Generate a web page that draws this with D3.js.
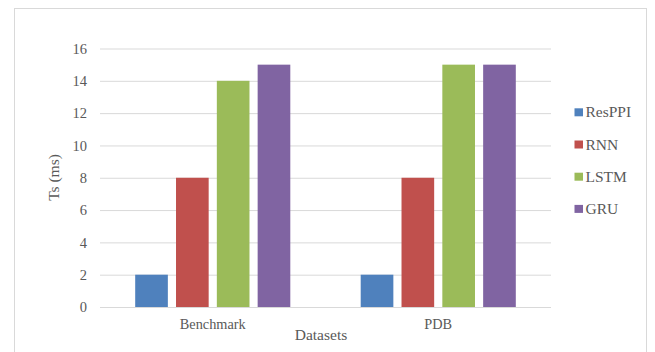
<!DOCTYPE html>
<html><head><meta charset="utf-8">
<script src="https://cdn.jsdelivr.net/npm/d3@7"></script>
<style>body{margin:0;background:#fff}svg{display:block}</style>
</head><body>
<script>
const categories = ["Benchmark", "PDB"];
const seriesNames = ["ResPPI", "RNN", "LSTM", "GRU"];
const seriesColors = ["#4f81bd", "#c0504d", "#9bbb59", "#8064a2"];
const resppiValues = [2, 2];
const rnnValues = [8, 8];
const lstmValues = [14, 15];
const gruValues = [15, 15];
const yTicks = [0, 2, 4, 6, 8, 10, 12, 14, 16];
const seriesValues = [resppiValues, rnnValues, lstmValues, gruValues];

(function () {
const W = 655, H = 352;
const svg = d3.select("body").append("svg").attr("width", W).attr("height", H);
const font = "'Liberation Serif','Times New Roman',serif";
const txt = "#595959";

svg.append("rect").attr("x", 14.5).attr("y", 8.5).attr("width", 632).attr("height", 360)
  .attr("fill", "#fff").attr("stroke", "#d9d9d9");

const pLeft = 100, pRight = 551, pTop = 48.5, pBottom = 307;
const y = d3.scaleLinear().domain([0, 16]).range([pBottom, pTop]);
const x0 = d3.scaleBand().domain(categories).range([pLeft, pRight]).paddingInner(0.276).paddingOuter(0.138);
const x1 = d3.scaleBand().domain(seriesNames).range([0, x0.bandwidth()]).paddingInner(0.2).paddingOuter(0.1);

const yAxis = svg.append("g").attr("transform", `translate(${pLeft},0)`)
  .call(d3.axisLeft(y).tickValues(yTicks).tickSize(-(pRight - pLeft)).tickPadding(13));
yAxis.select(".domain").remove();
yAxis.selectAll(".tick line").attr("stroke", "#d9d9d9").attr("stroke-width", 1);
yAxis.selectAll(".tick text").attr("fill", txt).style("font-family", font).style("font-size", "14.5px");

const groups = svg.append("g").selectAll("g").data(categories).join("g")
  .attr("transform", d => `translate(${x0(d)},0)`);
groups.selectAll("rect").data((d, i) => seriesNames.map((s, j) => ({s, j, v: seriesValues[j][i]})))
  .join("rect")
  .attr("x", d => x1(d.s)).attr("width", x1.bandwidth())
  .attr("y", d => y(d.v)).attr("height", d => y(0) - y(d.v))
  .attr("fill", d => seriesColors[d.j]);

const xAxis = svg.append("g").attr("transform", `translate(0,${pBottom})`)
  .call(d3.axisBottom(x0).tickSize(0).tickPadding(12));
xAxis.select(".domain").remove();
xAxis.selectAll(".tick text").attr("fill", txt).style("font-family", font).style("font-size", "14.3px");

svg.append("text").attr("x", 321).attr("y", 340).attr("text-anchor", "middle")
  .attr("fill", txt).style("font-family", font).style("font-size", "15.5px").text("Datasets");
svg.append("text").attr("transform", "translate(58.5,177.5) rotate(-90)").attr("text-anchor", "middle")
  .attr("fill", txt).style("font-family", font).style("font-size", "15.5px").text("Ts (ms)");

const legend = svg.append("g").selectAll("g").data(seriesNames).join("g")
  .attr("transform", (d, i) => `translate(574.5,${112.3 + i * 32.2})`);
legend.append("rect").attr("x", 0).attr("y", -4).attr("width", 8.5).attr("height", 8)
  .attr("fill", (d, i) => seriesColors[i]);
legend.append("text").attr("x", 11).attr("y", 5).attr("fill", txt)
  .style("font-family", font).style("font-size", "15.5px").text(d => d);
})();
</script>
</body></html>
